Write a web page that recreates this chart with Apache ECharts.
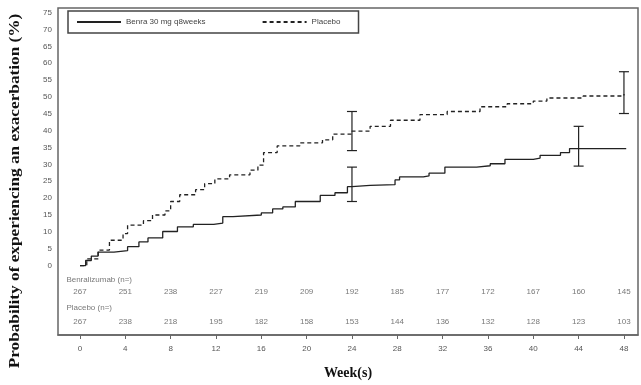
<!DOCTYPE html>
<html>
<head>
<meta charset="utf-8">
<script src="https://cdn.jsdelivr.net/npm/echarts@6/dist/echarts.min.js"></script>
<style>
  html, body { margin: 0; padding: 0; background: #fff; }
  #chart { width: 641px; height: 385px; }
</style>
</head>
<body>
<div id="chart"></div>
<script>
  // Kaplan-Meier style curves
  const benraWeeks = [0, 0.5, 1.0, 1.6, 3.0, 4.2, 5.2, 6.0, 7.3, 8.6, 10.0, 11.8, 12.6, 13.5, 16.0, 17.0, 17.9, 19.0, 21.2, 22.5, 23.6, 24.0, 25.6, 27.8, 28.2, 30.3, 30.8, 32.2, 35.0, 36.2, 37.5, 40.0, 40.6, 42.4, 43.2, 48.2]
  const benraPct = [0, 1.5, 2.8, 4.0, 4.4, 5.6, 7.0, 8.2, 10.1, 11.5, 12.2, 12.6, 14.5, 15.0, 15.6, 16.8, 17.4, 19.0, 20.8, 21.6, 23.4, 23.8, 24.0, 25.4, 26.3, 26.6, 27.4, 29.2, 29.6, 30.2, 31.5, 31.9, 32.7, 33.5, 34.7, 34.7]

  const placeboWeeks = [0, 0.6, 1.6, 2.6, 3.8, 4.2, 5.6, 6.4, 7.5, 8.0, 8.8, 10.2, 11.0, 11.9, 13.2, 15.0, 15.7, 16.2, 17.4, 19.4, 21.4, 22.3, 24.0, 25.6, 27.4, 30.0, 32.4, 35.3, 37.7, 40.0, 41.2, 44.4, 48.0]
  const placeboPct = [0, 2.0, 4.6, 7.5, 9.5, 12.0, 13.3, 15.0, 16.2, 19.0, 21.0, 22.5, 24.3, 25.7, 26.9, 28.3, 29.8, 33.5, 35.5, 36.4, 37.3, 39.0, 39.9, 41.3, 43.1, 44.8, 45.7, 47.1, 48.0, 48.8, 49.7, 50.3, 50.9]

  // confidence bars: [week, low, high]
  const benraCI = [[24, 19.0, 29.2], [44, 29.5, 41.3]]
  const placeboCI = [[24, 34.1, 45.7], [48, 45.1, 57.5]]

  // number at risk table
  const riskWeeks = [0, 4, 8, 12, 16, 20, 24, 28, 32, 36, 40, 44, 48]
  const benraRisk = [267, 251, 238, 227, 219, 209, 192, 185, 177, 172, 167, 160, 145]
  const placeboRisk = [267, 238, 218, 195, 182, 158, 153, 144, 136, 132, 128, 123, 103]

  const xTicks = [0, 4, 8, 12, 16, 20, 24, 28, 32, 36, 40, 44, 48]
  const yTicks = [0, 5, 10, 15, 20, 25, 30, 35, 40, 45, 50, 55, 60, 65, 70, 75]

  const lineColor = '#222'
  const textColor = '#555'

  function ciSeries(name, ci) {
    return {
      name: name,
      type: 'custom',
      data: ci,
      z: 5,
      renderItem: function (params, api) {
        const x = api.value(0)
        const lo = api.coord([x, api.value(1)])
        const hi = api.coord([x, api.value(2)])
        const w = 5
        const st = {stroke: lineColor, lineWidth: 1.2}
        return {
          type: 'group',
          children: [
            {type: 'line', shape: {x1: lo[0], y1: lo[1], x2: hi[0], y2: hi[1]}, style: st},
            {type: 'line', shape: {x1: lo[0] - w, y1: lo[1], x2: lo[0] + w, y2: lo[1]}, style: st},
            {type: 'line', shape: {x1: hi[0] - w, y1: hi[1], x2: hi[0] + w, y2: hi[1]}, style: st}
          ]
        }
      }
    }
  }

  function riskRow(values, rowY) {
    return {
      type: 'scatter',
      symbolSize: 0,
      silent: true,
      data: values.map((n, i) => [riskWeeks[i], rowY, n]),
      label: {
        show: true,
        position: 'inside',
        formatter: p => p.value[2],
        color: textColor,
        fontSize: 8,
        fontFamily: 'Liberation Sans'
      }
    }
  }

  function rowHeader(text, rowY) {
    return {
      type: 'scatter',
      symbolSize: 0,
      silent: true,
      data: [[-1.2, rowY, text]],
      label: {
        show: true,
        position: 'right',
        distance: 0,
        formatter: p => p.value[2],
        color: textColor,
        fontSize: 8,
        fontFamily: 'Liberation Sans'
      }
    }
  }

  const chart = echarts.init(document.getElementById('chart'))
  chart.setOption({
    animation: false,
    backgroundColor: '#fff',
    grid: {
      left: 58, right: 3, top: 8, bottom: 40,
      show: true, borderColor: '#666', borderWidth: 1.5
    },
    legend: {
      left: 68, top: 11,
      padding: [7, 18, 7, 8],
      borderColor: '#444', borderWidth: 1.5,
      itemWidth: 44, itemHeight: 8, itemGap: 56,
      itemStyle: {opacity: 0},
      data: ['Benra 30 mg q8weeks', 'Placebo'],
      textStyle: {fontSize: 8, color: '#444', fontFamily: 'Liberation Sans'}
    },
    xAxis: {
      type: 'value',
      min: -1.94, max: 49.24,
      name: 'Week(s)',
      nameLocation: 'middle',
      nameGap: 31,
      nameTextStyle: {fontFamily: 'Liberation Serif', fontWeight: 'bold', fontSize: 14, color: '#111'},
      axisLine: {show: true, onZero: false, lineStyle: {color: '#666', width: 1.5}},
      splitLine: {show: false},
      axisTick: {show: true, customValues: xTicks, length: 4, lineStyle: {color: '#666'}},
      axisLabel: {customValues: xTicks, color: textColor, fontSize: 8, margin: 10, fontFamily: 'Liberation Sans'}
    },
    yAxis: {
      type: 'value',
      min: -20.6, max: 76.4,
      axisLine: {show: false},
      splitLine: {show: false},
      axisTick: {show: false},
      axisLabel: {customValues: yTicks, color: textColor, fontSize: 8, margin: 6, fontFamily: 'Liberation Sans'}
    },
    graphic: [{
      type: 'text',
      x: 15, y: 191,
      rotation: Math.PI / 2,
      scaleX: 1.15,
      style: {
        text: 'Probability of experiencing an exacerbation (%)',
        font: 'bold 15px "Liberation Serif"',
        fill: '#111',
        align: 'center',
        verticalAlign: 'middle'
      }
    }],
    series: [
      {
        name: 'Benra 30 mg q8weeks',
        type: 'line',
        step: 'end',
        symbol: 'none',
        data: benraWeeks.map((w, i) => [w, benraPct[i]]),
        lineStyle: {color: lineColor, width: 1.3},
        itemStyle: {color: lineColor}
      },
      {
        name: 'Placebo',
        type: 'line',
        step: 'end',
        symbol: 'none',
        data: placeboWeeks.map((w, i) => [w, placeboPct[i]]),
        lineStyle: {color: lineColor, width: 1.3, type: [4, 3]},
        itemStyle: {color: lineColor}
      },
      ciSeries('benraCI', benraCI),
      ciSeries('placeboCI', placeboCI),
      rowHeader('Benralizumab (n=)', -4.2),
      riskRow(benraRisk, -7.9),
      rowHeader('Placebo (n=)', -12.6),
      riskRow(placeboRisk, -16.6)
    ]
  })
</script>
</body>
</html>
